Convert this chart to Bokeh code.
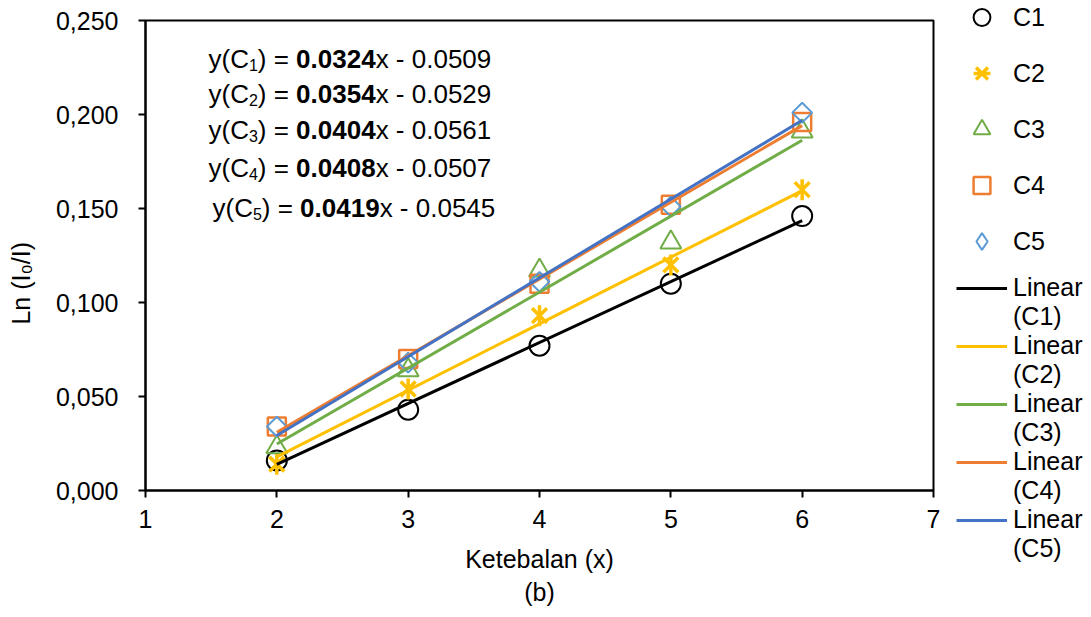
import numpy as np
from bokeh.plotting import figure
from bokeh.layouts import row
from bokeh.models import (Label, Legend, LegendItem, FixedTicker, Title,
                          CustomJSTickFormatter, Range1d)
from bokeh.embed import file_html
from bokeh.resources import INLINE

# ---------------- data ----------------
thickness = [2, 3, 4, 5, 6]
series_names = ["C1", "C2", "C3", "C4", "C5"]
c1 = [0.016, 0.043, 0.077, 0.110, 0.146]
c2 = [0.014, 0.054, 0.093, 0.120, 0.160]
c3 = [0.023, 0.064, 0.117, 0.132, 0.191]
c4 = [0.034, 0.070, 0.110, 0.152, 0.196]
c5 = [0.034, 0.068, 0.111, 0.151, 0.201]
slopes = [0.0324, 0.0354, 0.0404, 0.0408, 0.0419]
intercepts = [-0.0509, -0.0529, -0.0561, -0.0507, -0.0545]
fit_x = [2, 6]
x_ticks = [1, 2, 3, 4, 5, 6, 7]
y_ticks = [0.0, 0.05, 0.10, 0.15, 0.20, 0.25]
y_tick_labels = ["0,000", "0,050", "0,100", "0,150", "0,200", "0,250"]
x_label = "Ketebalan (x)"
y_label = "Ln (I\u2080/I)"
caption = "(b)"
trend_word = "Linear"
trend_names = ["(C1)", "(C2)", "(C3)", "(C4)", "(C5)"]

# ---------------- style ----------------
FONT = "Liberation Sans"
FS = "25px"
marker_colors = ["black", "#FFC000", "#70AD47", "#ED7D31", "#5B9BD5"]
line_colors = ["black", "#FFC000", "#70AD47", "#ED7D31", "#4472C4"]

# Arial / Liberation Sans advance widths (1/1000 em)
W = {'y': 500, '(': 333, ')': 333, 'C': 722, ' ': 278, '=': 584, '.': 278,
     'x': 500, '-': 333, 'L': 556, 'n': 556, 'I': 278, '/': 278}


def tw(s, fs):
    return sum(W.get(ch, 556) for ch in s) * fs / 1000.0


p = figure(width=943, height=617, x_range=Range1d(1, 7), y_range=Range1d(0, 0.25),
           output_backend="svg", toolbar_location=None,
           min_border_left=145, min_border_right=10, min_border_top=20, min_border_bottom=127)
p.frame_align = False
p.background_fill_color = "white"
p.border_fill_color = "white"
p.outline_line_color = "black"
p.outline_line_width = 2
p.xgrid.visible = False
p.ygrid.visible = False

for ax in (p.xaxis[0], p.yaxis[0]):
    ax.axis_line_width = 2
    ax.axis_line_color = "black"
    ax.major_tick_line_width = 2
    ax.major_tick_line_color = "black"
    ax.major_tick_in = 0
    ax.major_tick_out = 7
    ax.minor_tick_line_color = None
    ax.major_label_text_font = FONT
    ax.major_label_text_font_size = FS
    ax.major_label_text_color = "black"
    ax.axis_label_text_font = FONT
    ax.axis_label_text_font_size = FS
    ax.axis_label_text_font_style = "normal"
    ax.axis_label_text_color = "black"

p.xaxis.ticker = FixedTicker(ticks=x_ticks)
p.xaxis.major_label_standoff = 12
p.xaxis.axis_label = x_label
p.xaxis.axis_label_standoff = 14

p.yaxis.ticker = FixedTicker(ticks=y_ticks)
p.yaxis.major_label_standoff = 20
# trailing no-break spaces shift the (centred) label down like in the original
p.yaxis.axis_label = y_label + "\u00a0" * 8
p.yaxis.axis_label_standoff = 18
p.yaxis.formatter = CustomJSTickFormatter(
    args=dict(tvals=y_ticks, tlabels=y_tick_labels),
    code="""
    for (let i = 0; i < tvals.length; i++) {
        if (Math.abs(tvals[i] - tick) < 1e-9) return tlabels[i];
    }
    return tick.toFixed(3).replace('.', ',');
    """)

p.add_layout(Title(text=caption, align="center", text_font=FONT, text_font_size=FS,
                   text_font_style="normal", text_color="black", standoff=0), "below")

# ---------------- markers ----------------
MK = [
    dict(marker="circle", size=20, fill_color=None, line_color=marker_colors[0], line_width=2),
    dict(marker="x", size=21, line_color=marker_colors[1], line_width=3.5),
    dict(marker="triangle", size=21, fill_color=None, line_color=marker_colors[2], line_width=2),
    dict(marker="square", size=18, fill_color=None, line_color=marker_colors[3], line_width=2.5),
    dict(marker="square", angle=np.pi / 4, size=14, fill_color=None, line_color=marker_colors[4], line_width=2),
]
series = [c1, c2, c3, c4, c5]
for i in range(5):
    p.scatter(thickness, series[i], **MK[i])
    if i == 1:
        p.scatter(thickness, series[i], marker="dash", angle=np.pi / 2, size=21,
                  line_color=marker_colors[1], line_width=3.5)

# ---------------- trend lines ----------------
for i in range(5):
    ys = [slopes[i] * xv + intercepts[i] for xv in fit_x]
    p.line(fit_x, ys, line_color=line_colors[i], line_width=3)

# ---------------- equations ----------------
EQ_FS = 26
SUB_FS = 16
SUB_DROP = 6
eq_x = [63, 63, 63, 63, 67]
eq_base = [432, 397, 361, 323, 283]


def lab(x, y, text, fs, bold=False):
    p.add_layout(Label(x=x, y=y, x_units="screen", y_units="screen", text=text,
                       text_font=FONT, text_font_size=f"{fs}px",
                       text_font_style="bold" if bold else "normal",
                       text_color="black", text_align="left", text_baseline="alphabetic"))


for i in range(5):
    x = eq_x[i]
    y = eq_base[i]
    lab(x, y, "y(C", EQ_FS)
    x += tw("y(C", EQ_FS)
    sub = str(i + 1)
    lab(x, y - SUB_DROP, sub, SUB_FS)
    x += tw(sub, SUB_FS)
    lab(x, y, ") =", EQ_FS)
    x += tw(") = ", EQ_FS)
    s_txt = f"{slopes[i]:.4f}"
    lab(x, y, s_txt, EQ_FS, bold=True)
    x += tw(s_txt, EQ_FS)
    lab(x, y, f"x - {-intercepts[i]:.4f}", EQ_FS)

# ---------------- legend panel ----------------
lg = figure(width=148, height=617, x_range=Range1d(0, 1), y_range=Range1d(0, 1),
            output_backend="svg", toolbar_location=None,
            min_border_left=0, min_border_right=0, min_border_top=0, min_border_bottom=0,
            x_axis_location=None, y_axis_location=None)
lg.frame_align = False
lg.outline_line_color = None
lg.grid.visible = False
lg.background_fill_color = "white"
lg.border_fill_color = "white"

nan = [float("nan")]
LG_MK = [dict(MK[0]), dict(MK[1]), dict(MK[2]), dict(MK[3]),
         dict(marker="diamond", fill_color=None, line_color=marker_colors[4], line_width=2)]
marker_items = []
for i in range(5):
    kw = {k: v for k, v in LG_MK[i].items() if k not in ("size", "angle")}
    rs = [lg.scatter(x=nan, y=nan, **kw)]
    if i == 1:
        rs.append(lg.scatter(x=nan, y=nan, marker="dash", angle=np.pi / 2,
                             line_color=marker_colors[1], line_width=3.5))
    marker_items.append(LegendItem(label=series_names[i], renderers=rs))

# each trend entry is two text rows: "Linear" (with its line) and "(Cn)" below it
line_items = []
blank = lg.line(x=nan, y=nan, line_alpha=0)
for i in range(5):
    r = lg.line(x=nan, y=nan, line_color=line_colors[i], line_width=3)
    line_items.append(LegendItem(label=trend_word, renderers=[r]))
    line_items.append(LegendItem(label=trend_names[i], renderers=[blank]))

common = dict(orientation="vertical", glyph_width=51, padding=0, margin=0, label_standoff=6,
              border_line_alpha=0, background_fill_alpha=0,
              label_text_font=FONT, label_text_font_size=FS, label_text_color="black")
leg1 = Legend(items=marker_items, location=(13, 355),
              glyph_height=42, label_height=42, spacing=14, **common)
leg2 = Legend(items=line_items, location=(13, 54),
              glyph_height=28, label_height=28, spacing=-2, **common)
lg.add_layout(leg1)
lg.add_layout(leg2)

layout = row(p, lg)
open("out.html", "w").write(file_html(layout, INLINE))
